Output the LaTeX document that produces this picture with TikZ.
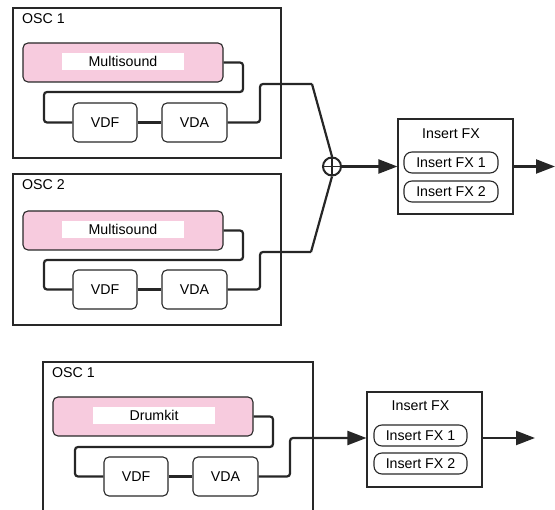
\documentclass[tikz,border=0pt]{standalone}
\usepackage{fontspec}
\setmainfont{Liberation Sans}
\usetikzlibrary{arrows.meta}
\definecolor{pinkfill}{RGB}{247,203,222}
\definecolor{boxline}{RGB}{40,40,40}
\tikzset{
  oscbox/.style={draw=boxline,line width=1.3pt,rectangle,inner sep=0pt},
  osclabel/.style={anchor=base west,inner sep=0pt,font=\fontsize{14.2}{16}\selectfont},
  srcbox/.style={draw=boxline,line width=1.1pt,fill=pinkfill,rounded corners=5pt,minimum width=200pt,minimum height=39pt,inner sep=0pt},
  srclabel/.style={fill=white,minimum width=122pt,minimum height=17pt,inner sep=0pt,font=\fontsize{14.2}{16}\selectfont},
  modbox/.style={draw=boxline,line width=1.1pt,rounded corners=5pt,minimum height=39pt,inner sep=0pt,font=\fontsize{14.2}{16}\selectfont},
  fxbox/.style={draw=boxline,line width=1.1pt,minimum width=115pt,minimum height=95pt,inner sep=0pt},
  fxtitle/.style={anchor=base,inner sep=0pt,font=\fontsize{14.2}{16}\selectfont},
  pill/.style={draw=boxline,line width=1.1pt,rounded corners=8pt,minimum width=94pt,minimum height=21pt,inner sep=0pt,font=\fontsize{14.2}{16}\selectfont},
  conn/.style={draw=black!85,line width=2.2pt,rounded corners=3pt},
  arr/.style={draw=black!85,line width=2.2pt,-{Triangle[length=19pt,width=14pt]}},
}
\begin{document}
\begin{tikzpicture}[x=1pt,y=-1pt]
\useasboundingbox (0,0) rectangle (555,510);
\clip (0,0) rectangle (555,510);
% ---------- upper chain: OSC 1 ----------
\node[oscbox,minimum width=268pt,minimum height=150pt] (oscA) at (147,83) {};
\node[osclabel] (oscAl) at (22,24) {OSC 1};
\node[srcbox] (msA) at (123,62.5) {};
\node[srclabel] (msAl) at (123,61.5) {Multisound};
\node[modbox,minimum width=64pt] (vdfA) at (105,122.5) {VDF};
\node[modbox,minimum width=65pt] (vdaA) at (194.5,122.5) {VDA};
% ---------- upper chain: OSC 2 ----------
\node[oscbox,minimum width=268pt,minimum height=151pt] (oscB) at (147,249.5) {};
\node[osclabel] (oscBl) at (22,190) {OSC 2};
\node[srcbox] (msB) at (123,230.5) {};
\node[srclabel] (msBl) at (123,229.5) {Multisound};
\node[modbox,minimum width=64pt] (vdfB) at (105,289.5) {VDF};
\node[modbox,minimum width=65pt] (vdaB) at (194.5,289.5) {VDA};
% ---------- sum + insert fx ----------
\node[circle,draw=black!85,line width=2pt,minimum size=18pt,inner sep=0pt] (sum) at (332,166.5) {};
\draw[black!85,line width=1.6pt] (sum.north) -- (sum.south) (sum.west) -- (sum.east);
\node[fxbox] (fxA) at (455.5,166.5) {};
\node[fxtitle] (fxAt) at (451,139) {Insert FX};
\node[pill] (fxA1) at (451,162.5) {Insert FX 1};
\node[pill] (fxA2) at (451,191.5) {Insert FX 2};
\coordinate (outA) at (555,166.5);
% connectors OSC 1
\draw[conn] (msA.east) -- (243,62.5) -- (243,92) -- (44,92) |- (vdfA.west);
\draw[conn] (vdfA.east) -- (vdaA.west);
\draw[conn] (vdaA.east) -- (260,122.5) -- (260,84) -- (312,84);
\draw[line width=2.2pt,black!85] (312,84) -- (sum.north);
% connectors OSC 2
\draw[conn] (msB.east) -- (243,230.5) -- (243,260) -- (44,260) |- (vdfB.west);
\draw[conn] (vdfB.east) -- (vdaB.west);
\draw[conn] (vdaB.east) -- (260,289.5) -- (260,252) -- (311,252);
\draw[line width=2.2pt,black!85] (311,252) -- (sum.south);
\draw[arr] (sum.east) -- (fxA.west);
\draw[arr] (fxA.east) -- (outA);
% ---------- lower chain ----------
\node[oscbox,minimum width=270pt,minimum height=170pt] (oscC) at (178,447) {};
\node[osclabel] (oscCl) at (52,378) {OSC 1};
\node[srcbox] (dk) at (153,416.5) {};
\node[srclabel] (dkl) at (154,415.5) {Drumkit};
\node[modbox,minimum width=64pt] (vdfC) at (136,476.5) {VDF};
\node[modbox,minimum width=65pt] (vdaC) at (225.5,476.5) {VDA};
\node[fxbox] (fxC) at (424.5,439.5) {};
\node[fxtitle] (fxCt) at (420.5,411) {Insert FX};
\node[pill,minimum width=93pt] (fxC1) at (420.5,435.5) {Insert FX 1};
\node[pill,minimum width=93pt] (fxC2) at (420.5,463.5) {Insert FX 2};
\coordinate (outC) at (535,438);
\draw[conn] (dk.east) -- (273,416.5) -- (273,447) -- (75,447) |- (vdfC.west);
\draw[conn] (vdfC.east) -- (vdaC.west);
\draw[conn,-{Triangle[length=19pt,width=14pt]}] (vdaC.east) -- (290,476.5) -- (290,438) -- (fxC.west |- 0,438);
\draw[arr] (fxC.east |- 0,438) -- (outC);
\end{tikzpicture}
\end{document}
